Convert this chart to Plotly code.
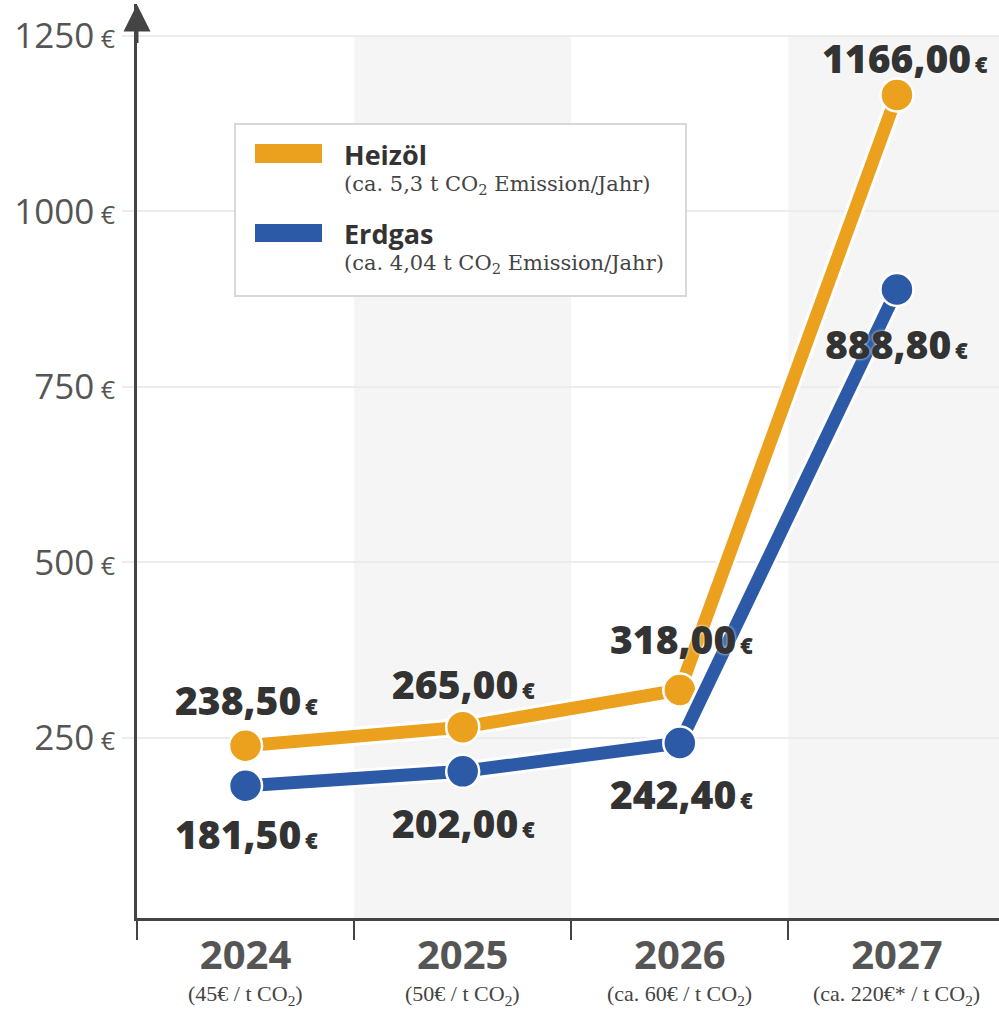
import plotly.graph_objects as go

# ---------------- data ----------------
years = ["2024", "2025", "2026", "2027"]
co2_prices = ["(45€ / t CO<sub>2</sub>)", "(50€ / t CO<sub>2</sub>)",
              "(ca. 60€ / t CO<sub>2</sub>)", "(ca. 220€* / t CO<sub>2</sub>)"]
heizoel = [238.50, 265.00, 318.00, 1166.00]
erdgas = [181.50, 202.00, 242.40, 888.80]
y_ticks = [250, 500, 750, 1000, 1250]
series_names = ["Heizöl", "Erdgas"]
series_notes = ["(ca. 5,3 t CO<sub>2</sub> Emission/Jahr)",
                "(ca. 4,04 t CO<sub>2</sub> Emission/Jahr)"]

# ---------------- styles ----------------
ORANGE = "#EBA01E"
BLUE = "#2C5AA6"
AXIS = "#444444"
W, H = 999, 1012
ML, MR, MT, MB = 137, 0, 4, 94
PW, PH = W - ML - MR, H - MT - MB

def px_x(p):  # pixel -> paper x
    return (p - ML) / PW

def px_y(p):  # pixel -> paper y
    return (H - MB - p) / PH

heiz_shift = [(1, 46), (1, 44), (2, 51), (8, 37)]
erd_shift = [(1, -48), (1, -51), (2, -50), (0, -54)]

def fmt(v):
    return (f"{v:.2f}".replace(".", ",")
            + "<span style='font-size:22px'>\u2009€</span>")

fig = go.Figure()

series = [(heizoel, ORANGE), (erdgas, BLUE)]
for vals, col in series:
    fig.add_trace(go.Scatter(x=years, y=vals, mode="lines",
                             line=dict(color="white", width=19),
                             hoverinfo="skip", showlegend=False))
    fig.add_trace(go.Scatter(x=years, y=vals, mode="lines+markers",
                             line=dict(color=col, width=13),
                             marker=dict(size=33, color=col,
                                         line=dict(color="white", width=2.5)),
                             hoverinfo="skip", showlegend=False))

label_font = dict(family="Open Sans", size=39, color="#333333", weight=800,
                  shadow="0px 0px 3px white")
for vals, shifts in [(heizoel, heiz_shift), (erdgas, erd_shift)]:
    for i, (v, (dx, dy)) in enumerate(zip(vals, shifts)):
        fig.add_annotation(x=i, y=v, xref="x", yref="y", text=fmt(v),
                           showarrow=False, xshift=dx, yshift=dy,
                           font=label_font, xanchor="center", yanchor="middle")

# subtitles under the years
for i, t in enumerate(co2_prices):
    fig.add_annotation(x=i, y=px_y(995), xref="x", yref="paper", text=t,
                       showarrow=False, xanchor="center", yanchor="middle",
                       font=dict(family="Liberation Serif", size=22, color="#444444"))

# column shading
for x0 in [0.5, 2.5]:
    fig.add_shape(type="rect", xref="x", yref="y", x0=x0, x1=x0 + 1,
                  y0=-7, y1=1250, fillcolor="#f5f5f5", line_width=0,
                  layer="below")

# y-axis arrow
fig.add_annotation(x=-0.5, y=1295, xref="x", yref="y", text="",
                   showarrow=True, ax=0, ay=40, axref="pixel", ayref="pixel",
                   arrowhead=2, arrowsize=1.8, arrowwidth=3, arrowcolor=AXIS)

# legend box
fig.add_shape(type="rect", xref="paper", yref="paper",
              x0=px_x(235), x1=px_x(686), y0=px_y(296), y1=px_y(124),
              fillcolor="white", line=dict(color="#d8d8d8", width=2), layer="above")
sw_y = [(144, 163), (224, 242)]
title_y = [155, 233]
note_y = [185, 264]
for name, note, (yt, yb), ty, ny, (_, col) in zip(series_names, series_notes,
                                                   sw_y, title_y, note_y, series):
    fig.add_shape(type="rect", xref="paper", yref="paper",
                  x0=px_x(255), x1=px_x(322), y0=px_y(yb), y1=px_y(yt),
                  fillcolor=col, line_width=0, layer="above")
    fig.add_annotation(x=px_x(342), y=px_y(ty), xref="paper", yref="paper",
                       text=name, showarrow=False, xanchor="left", yanchor="middle",
                       font=dict(family="Open Sans", size=27, color="#333333",
                                 weight="bold"))
    fig.add_annotation(x=px_x(342), y=px_y(ny), xref="paper", yref="paper",
                       text=note, showarrow=False, xanchor="left", yanchor="middle",
                       font=dict(family="DejaVu Serif", size=21, color="#444444"))

fig.update_layout(
    width=W, height=H,
    margin=dict(l=ML, r=MR, t=MT, b=MB),
    paper_bgcolor="white", plot_bgcolor="white",
    showlegend=False,
    xaxis=dict(type="category", categoryarray=years, range=[-0.5, 3.47],
               showgrid=False, zeroline=False,
               showline=True, linecolor=AXIS, linewidth=3,
               ticks="outside", tickson="boundaries", ticklen=19,
               tickwidth=2, tickcolor=AXIS,
               tickfont=dict(family="Open Sans", size=40, color="#555555",
                             weight="bold")),
    yaxis=dict(range=[-7, 1295.6], tickvals=y_ticks,
               ticktext=[f"{v}<span style='font-size:25px'> €</span>" for v in y_ticks],
               showgrid=True, gridcolor="#ececec", gridwidth=1.5, zeroline=False,
               showline=True, linecolor=AXIS, linewidth=3,
               ticks="outside", ticklen=12, tickcolor="#ececec", tickwidth=1.5,
               tickfont=dict(family="Open Sans", size=35, color="#555555")),
)

fig.write_html("out.html", config={"displayModeBar": False},
               post_script="document.body.style.margin='0';"
                           "document.body.style.overflow='hidden';")
